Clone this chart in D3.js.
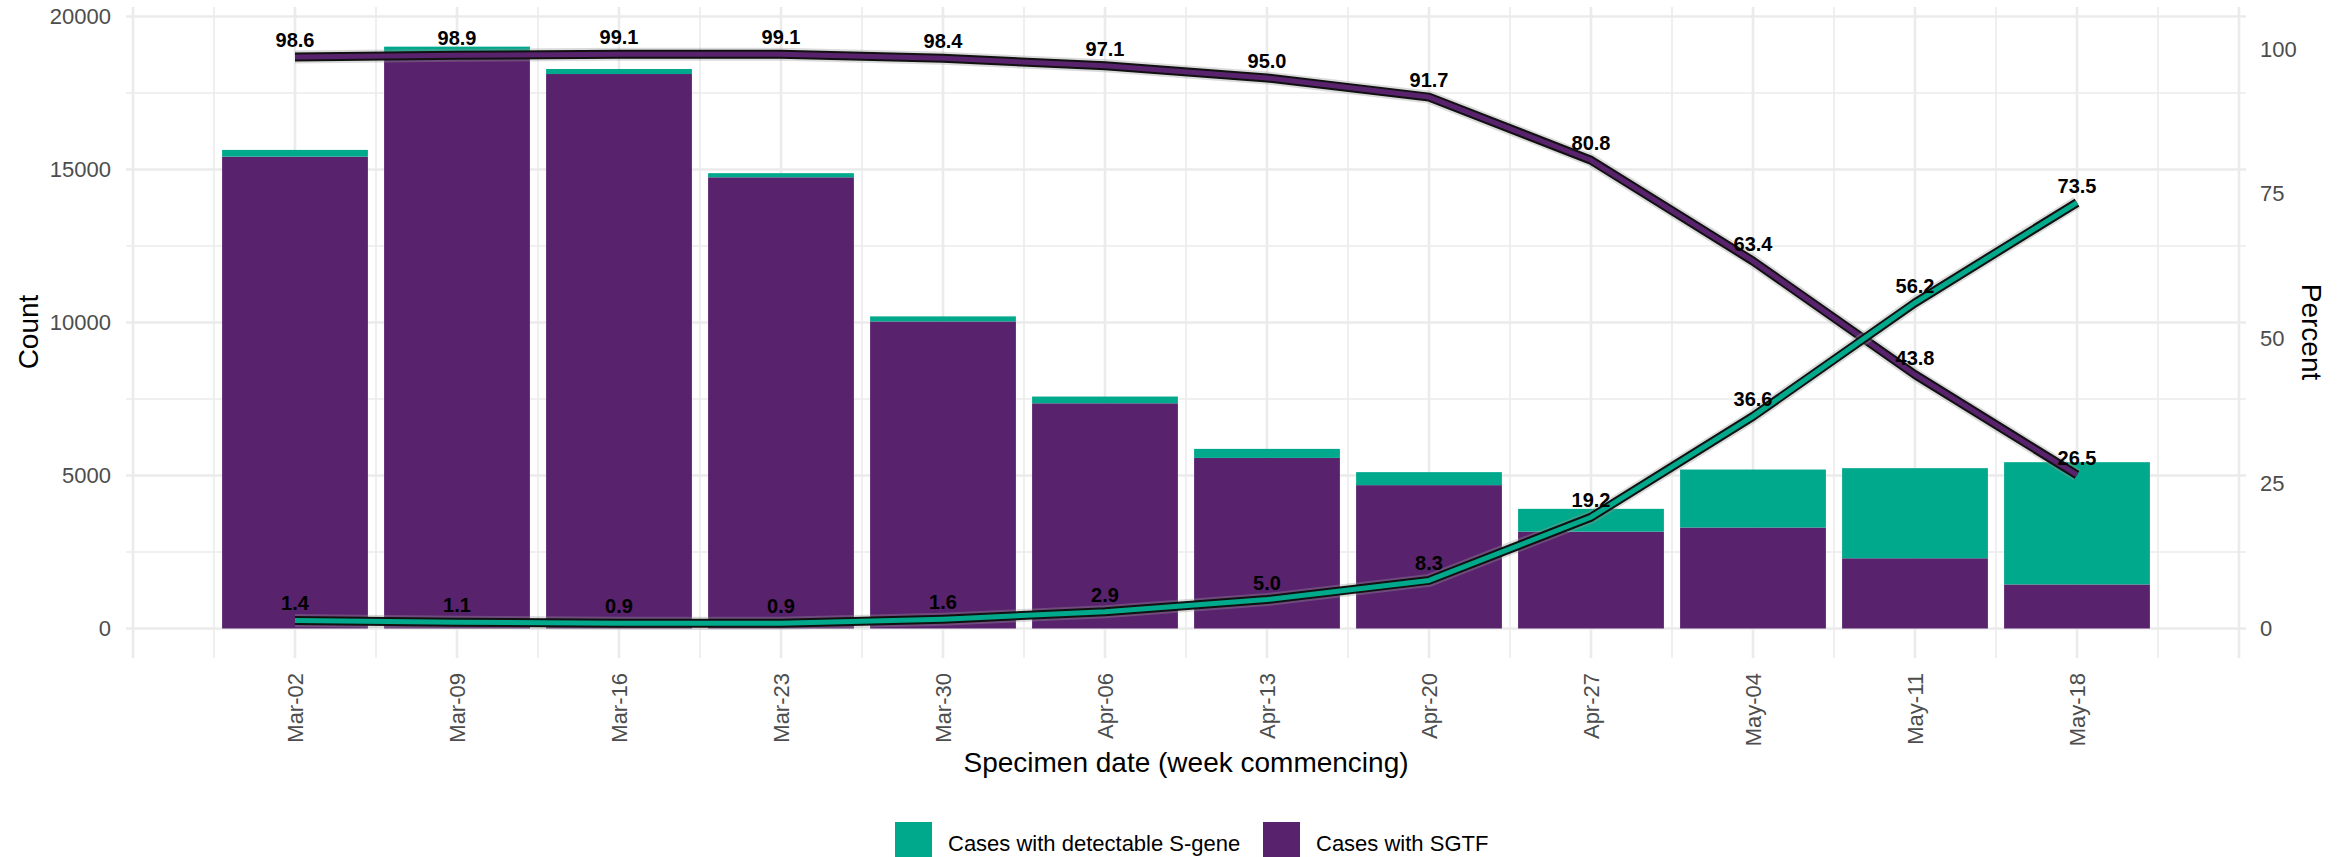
<!DOCTYPE html>
<html>
<head>
<meta charset="utf-8">
<script src="https://cdn.jsdelivr.net/npm/d3@7"></script>
<style>
  body { margin: 0; background: #fff; }
  text { font-family: "Liberation Sans", Arial, sans-serif; }
</style>
</head>
<body>
<div id="chart"></div>
<script>
// week commencing labels
let weeks = ['Mar-02', 'Mar-09', 'Mar-16', 'Mar-23', 'Mar-30', 'Apr-06',
  'Apr-13', 'Apr-20', 'Apr-27', 'May-04', 'May-11', 'May-18']

// case counts
let sgtfCases = [15420, 18805, 18120, 14745, 10035, 7360, 5575, 4685, 3165, 3300, 2295, 1440]
let sgeneCases = [220, 210, 165, 135, 165, 220, 295, 425, 745, 1895, 2945, 3995]

// percent labels on the lines
let sgtfPct = [98.6, 98.9, 99.1, 99.1, 98.4, 97.1, 95.0, 91.7, 80.8, 63.4, 43.8, 26.5]
let sgenePct = [1.4, 1.1, 0.9, 0.9, 1.6, 2.9, 5.0, 8.3, 19.2, 36.6, 56.2, 73.5]

let countTicks = [0, 5000, 10000, 15000, 20000]
let pctTicks = [0, 25, 50, 75, 100]

let green = '#00a98b'
let purple = '#58226d'

let width = 2349
let height = 857

let svg = d3
  .select('#chart')
  .append('svg')
  .attr('width', width)
  .attr('height', height)

let panel = { left: 126, right: 2246, top: 7, bottom: 658 }

// one empty week either side, like the original date axis
let x = d3.scaleLinear().domain([-1, weeks.length]).range([133, 2239])
let step = x(1) - x(0)
let barWidth = step * 0.9

let y = d3.scaleLinear().domain([0, 20000]).range([628.5, 16.5])
let yPct = d3.scaleLinear().domain([0, 100]).range([628.5, 49])

// gridlines
let grid = svg.append('g')
grid
  .selectAll('.hgrid')
  .data(d3.range(0, 20001, 2500))
  .enter()
  .append('line')
  .attr('x1', panel.left)
  .attr('x2', panel.right)
  .attr('y1', d => y(d))
  .attr('y2', d => y(d))
  .attr('stroke', '#ebebeb')
  .attr('stroke-width', d => (d % 5000 === 0 ? 2.6 : 1.6))

grid
  .selectAll('.vgrid')
  .data(d3.range(-1, weeks.length + 0.01, 0.5))
  .enter()
  .append('line')
  .attr('x1', d => x(d))
  .attr('x2', d => x(d))
  .attr('y1', panel.top)
  .attr('y2', panel.bottom)
  .attr('stroke', '#ebebeb')
  .attr('stroke-width', d => (d % 1 === 0 ? 2.6 : 1.6))

// stacked bars
let rows = weeks.map((w, i) => ({ i: i, sgtf: sgtfCases[i], sgene: sgeneCases[i] }))
let stacked = d3.stack().keys(['sgtf', 'sgene'])(rows)
let colors = { sgtf: purple, sgene: green }

svg
  .selectAll('.layer')
  .data(stacked)
  .enter()
  .append('g')
  .attr('fill', d => colors[d.key])
  .selectAll('rect')
  .data(d => d)
  .enter()
  .append('rect')
  .attr('x', d => x(d.data.i) - barWidth / 2)
  .attr('width', barWidth)
  .attr('y', d => y(d[1]))
  .attr('height', d => y(d[0]) - y(d[1]))

// percent lines: soft grey halo, black outline, coloured core
let line = d3
  .line()
  .x((d, i) => x(i))
  .y(d => yPct(d))

let series = [
  { values: sgtfPct, color: purple },
  { values: sgenePct, color: green }
]

series.forEach(s => {
  svg.append('path')
    .datum(s.values)
    .attr('d', line)
    .attr('fill', 'none')
    .attr('stroke', '#999')
    .attr('stroke-opacity', 0.35)
    .attr('stroke-width', 13)
    .attr('stroke-linejoin', 'round')
  svg.append('path')
    .datum(s.values)
    .attr('d', line)
    .attr('fill', 'none')
    .attr('stroke', '#111')
    .attr('stroke-width', 9)
    .attr('stroke-linejoin', 'round')
  svg.append('path')
    .datum(s.values)
    .attr('d', line)
    .attr('fill', 'none')
    .attr('stroke', s.color)
    .attr('stroke-width', 5)
    .attr('stroke-linejoin', 'round')
})

series.forEach(s => {
  svg
    .append('g')
    .selectAll('text')
    .data(s.values)
    .enter()
    .append('text')
    .attr('x', (d, i) => x(i))
    .attr('y', d => yPct(d) - 10)
    .attr('text-anchor', 'middle')
    .attr('font-size', 20)
    .attr('font-weight', 'bold')
    .attr('fill', '#000')
    .text(d => d3.format('.1f')(d))
})

// axes
let leftAxis = svg
  .append('g')
  .attr('transform', 'translate(' + panel.left + ',0)')
  .call(d3.axisLeft(y).tickValues(countTicks).tickFormat(d3.format('d')).tickSize(0).tickPadding(15))
let rightAxis = svg
  .append('g')
  .attr('transform', 'translate(' + panel.right + ',0)')
  .call(d3.axisRight(yPct).tickValues(pctTicks).tickSize(0).tickPadding(14))
let bottomAxis = svg
  .append('g')
  .attr('transform', 'translate(0,' + panel.bottom + ')')
  .call(
    d3.axisBottom(x)
      .tickValues(d3.range(weeks.length))
      .tickFormat(i => weeks[i])
      .tickSize(0)
  )

bottomAxis
  .selectAll('text')
  .attr('transform', 'rotate(-90)')
  .attr('text-anchor', 'end')
  .attr('x', -15)
  .attr('y', 0)
  .attr('dy', '0.35em')

;[leftAxis, rightAxis, bottomAxis].forEach(a => {
  a.select('.domain').remove()
  a.selectAll('text')
    .attr('font-size', 22)
    .attr('fill', '#4d4d4d')
    .style('font-family', '"Liberation Sans", Arial, sans-serif')
})

// axis titles
svg.append('text')
  .attr('transform', 'translate(38,332) rotate(-90)')
  .attr('text-anchor', 'middle')
  .attr('font-size', 28)
  .text('Count')

svg.append('text')
  .attr('transform', 'translate(2302,332) rotate(90)')
  .attr('text-anchor', 'middle')
  .attr('font-size', 28)
  .text('Percent')

svg.append('text')
  .attr('x', (panel.left + panel.right) / 2)
  .attr('y', 772)
  .attr('text-anchor', 'middle')
  .attr('font-size', 28)
  .text('Specimen date (week commencing)')

// legend
let legendItems = [
  { label: 'Cases with detectable S-gene', color: green, x: 895 },
  { label: 'Cases with SGTF', color: purple, x: 1263 }
]
let legend = svg
  .selectAll('.legend')
  .data(legendItems)
  .enter()
  .append('g')
  .attr('transform', d => 'translate(' + d.x + ',822)')
legend.append('rect')
  .attr('width', 37)
  .attr('height', 40)
  .attr('fill', d => d.color)
legend.append('text')
  .attr('x', 53)
  .attr('y', 29)
  .attr('font-size', 22)
  .text(d => d.label)
</script>
</body>
</html>
